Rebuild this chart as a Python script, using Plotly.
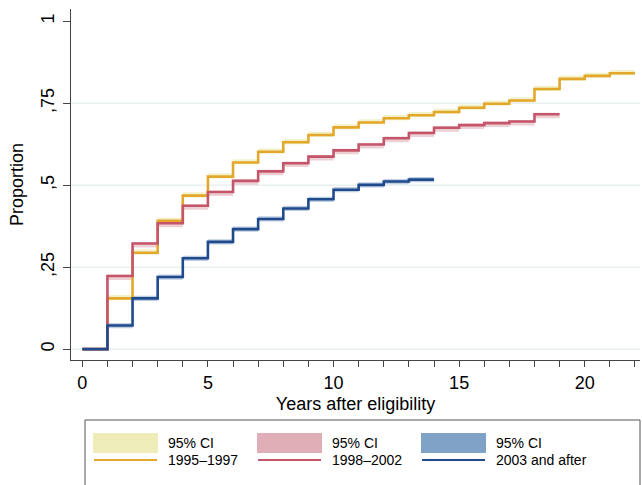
import plotly.graph_objects as go

# ---------------- data ----------------
years_a = list(range(0, 23))
cum_a = [0, .155, .294, .391, .468, .526, .569, .602, .631, .653, .676, .691, .704, .713,
         .723, .736, .748, .758, .793, .824, .833, .841, .841]
hi_a = [0, .165, .304, .401, .478, .536, .579, .612, .641, .663, .686, .701, .714, .723,
        .733, .746, .758, .768, .803, .834, .843, .851, .851]
lo_a = [0, .149, .288, .385, .462, .520, .563, .596, .625, .647, .670, .685, .698, .707,
        .717, .730, .742, .752, .787, .818, .827, .835, .835]

years_b = list(range(0, 20))
cum_b = [0, .223, .322, .384, .437, .479, .513, .542, .567, .587, .606, .624, .643, .659,
         .675, .683, .689, .694, .716, .716]
hi_b = [0, .228, .327, .389, .442, .484, .518, .547, .572, .592, .611, .629, .648, .664,
        .680, .688, .694, .699, .721, .721]
lo_b = [0, .211, .310, .372, .425, .467, .501, .530, .555, .575, .594, .612, .631, .647,
        .663, .671, .677, .682, .704, .704]

years_c = list(range(0, 15))
cum_c = [0, .072, .155, .220, .277, .327, .366, .397, .429, .457, .486, .501, .511, .517, .517]
hi_c = [0, .080, .163, .228, .285, .335, .374, .405, .437, .465, .494, .509, .519, .525, .525]
lo_c = [0, .064, .147, .212, .269, .319, .358, .389, .421, .449, .478, .493, .503, .509, .509]

series_names = ["1995\u20131997", "1998\u20132002", "2003 and after"]
ci_label = "95% CI"

x_tick_vals = list(range(0, 23))
x_tick_text = [str(v) if v % 5 == 0 else "" for v in x_tick_vals]
y_tick_vals = [0, 0.25, 0.5, 0.75, 1]
y_tick_text = ["0", ",25", ",5", ",75", "1"]
grid_y = [0, 0.25, 0.5, 0.75]

# ---------------- styles ----------------
line_cols = ["#e3a82b", "#c4556a", "#1f4b8c"]
band_cols = ["rgba(234,232,170,0.6)", "rgba(214,150,162,0.45)", "rgba(110,145,190,0.45)"]
swatch_cols = ["#eeedb9", "#dfaeb6", "#80a2c6"]
FONT = "Liberation Sans, Arial, Helvetica, sans-serif"

fig = go.Figure()

groups = [(years_a, cum_a, hi_a, lo_a), (years_b, cum_b, hi_b, lo_b), (years_c, cum_c, hi_c, lo_c)]
for i, (xs, ys, hs, ls) in enumerate(groups):
    fig.add_trace(go.Scatter(x=xs, y=ls, mode="lines", line=dict(width=0, shape="hv"),
                             showlegend=False, hoverinfo="skip"))
    fig.add_trace(go.Scatter(x=xs, y=hs, mode="lines", line=dict(width=0, shape="hv"),
                             fill="tonexty", fillcolor=band_cols[i], showlegend=False,
                             hoverinfo="skip"))
for i, (xs, ys, hs, ls) in enumerate(groups):
    fig.add_trace(go.Scatter(x=xs, y=ys, mode="lines", name=series_names[i],
                             line=dict(color=line_cols[i], width=2.6, shape="hv"),
                             showlegend=False))

shapes = []
for gy in grid_y:
    shapes.append(dict(type="line", xref="paper", yref="y", x0=0, x1=1, y0=gy, y1=gy,
                       line=dict(color="#eaeff2", width=1.5), layer="below"))

# manual legend (pixel -> paper conversions)
L, T, W, H = 71, 9, 569, 351
def px(x):
    return (x - L) / W
def py(y):
    return (T + H - y) / H

shapes.append(dict(type="rect", xref="paper", yref="paper", x0=px(85), x1=px(640),
                   y0=py(500), y1=py(420), line=dict(color="#555555", width=1),
                   fillcolor="rgba(0,0,0,0)"))
col_x = [93, 257, 421]
annotations = []
for i in range(3):
    x0 = col_x[i]
    shapes.append(dict(type="rect", xref="paper", yref="paper", x0=px(x0), x1=px(x0 + 65),
                       y0=py(453), y1=py(433), line=dict(width=0), fillcolor=swatch_cols[i]))
    shapes.append(dict(type="line", xref="paper", yref="paper", x0=px(x0 + 1), x1=px(x0 + 64),
                       y0=py(460), y1=py(460), line=dict(color=line_cols[i], width=2)))
    annotations.append(dict(xref="paper", yref="paper", x=px(x0 + 73), y=py(443),
                            text=ci_label, showarrow=False, xanchor="left", yanchor="middle",
                            font=dict(size=14, color="#000", family=FONT)))
    annotations.append(dict(xref="paper", yref="paper", x=px(x0 + 73), y=py(460),
                            text=series_names[i], showarrow=False, xanchor="left",
                            yanchor="middle", font=dict(size=14, color="#000", family=FONT)))

fig.update_layout(
    width=642, height=485,
    margin=dict(l=71, r=2, t=9, b=125, pad=0),
    plot_bgcolor="white", paper_bgcolor="white",
    font=dict(family=FONT, size=18, color="#000"),
    showlegend=False,
    shapes=shapes, annotations=annotations,
    xaxis=dict(range=[-0.45, 22.2], tickvals=x_tick_vals, ticktext=x_tick_text,
               ticks="outside", ticklen=6, tickwidth=1.2, tickcolor="#444",
               showline=True, linecolor="#444", linewidth=1.2, showgrid=False,
               zeroline=False, tickfont=dict(size=18),
               title=dict(text="Years after eligibility", font=dict(size=18), standoff=5)),
    yaxis=dict(range=[-0.033, 1.037], tickvals=y_tick_vals, ticktext=y_tick_text,
               tickangle=-90, ticks="outside", ticklen=7, tickwidth=1.2, tickcolor="#444",
               showline=True, linecolor="#444", linewidth=1.2, showgrid=False,
               zeroline=False, tickfont=dict(size=18), ticklabelstandoff=2,
               title=dict(text="Proportion", font=dict(size=18), standoff=9)),
)

fig.write_html("out.html")
